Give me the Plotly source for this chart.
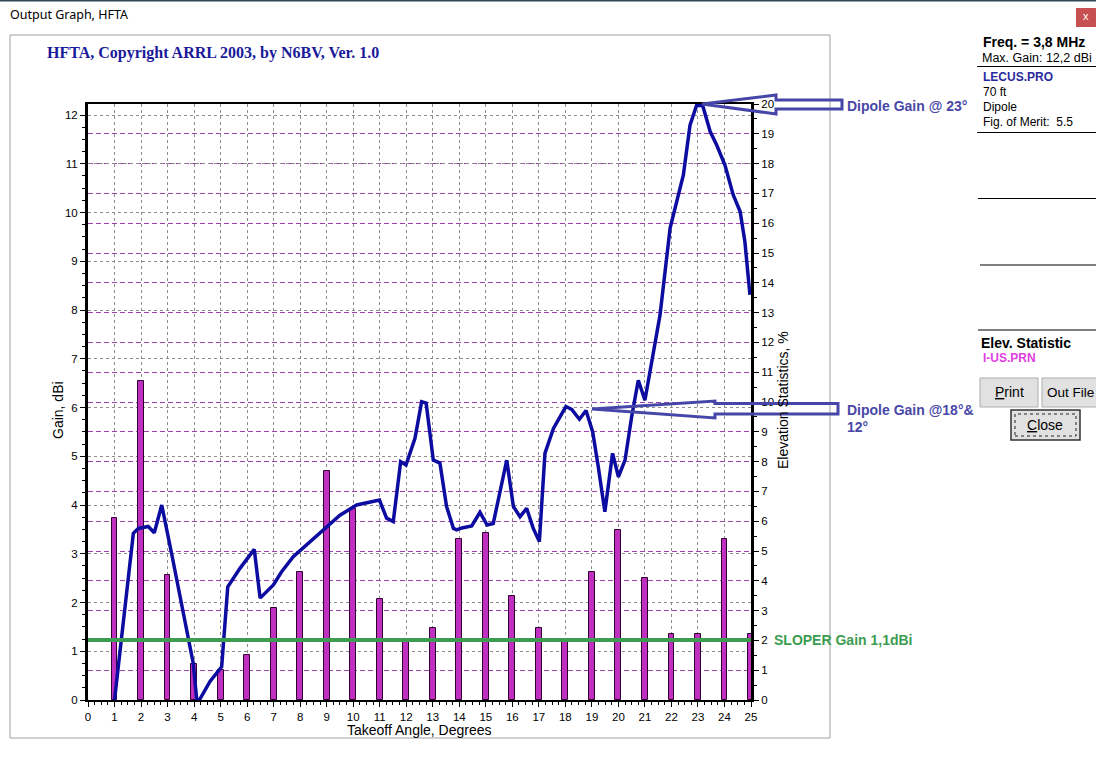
import plotly.graph_objects as go

# ---------------- data ----------------
stat_angles = list(range(1, 26))
stat_pct = [6.1, 10.7, 4.2, 1.2, 1.0, 1.5, 3.1, 4.3, 7.7, 6.4, 3.4, 2.0, 2.4,
            5.4, 5.6, 3.5, 2.4, 2.0, 4.3, 5.7, 4.1, 2.2, 2.2, 5.4, 2.2]

gain_angles = [1.0, 1.71, 1.90, 2.27, 2.50, 2.78, 3.15, 3.72, 3.97, 4.10, 4.20,
               4.60, 5.04, 5.27, 5.73, 6.27, 6.49, 6.99, 7.30, 7.74, 8.18, 8.87,
               9.50, 10.13, 10.99, 11.26, 11.51, 11.79, 11.99, 12.33, 12.58,
               12.75, 13.02, 13.27, 13.52, 13.78, 13.90, 14.10, 14.47, 14.78,
               15.05, 15.28, 15.79, 16.04, 16.29, 16.54, 16.79, 17.02, 17.23,
               17.55, 18.02, 18.24, 18.53, 18.78, 19.03, 19.24, 19.49, 19.78,
               20.00, 20.25, 20.50, 20.75, 21.00, 21.57, 21.95, 22.45, 22.70,
               22.95, 23.18, 23.46, 23.71, 24.02, 24.33, 24.59, 24.77, 24.96]
gain_dbi = [0.0, 3.42, 3.52, 3.56, 3.43, 4.00, 3.01, 1.47, 0.75, 0.0, 0.0,
            0.38, 0.68, 2.32, 2.70, 3.09, 2.09, 2.36, 2.63, 2.94, 3.15, 3.49,
            3.79, 4.00, 4.10, 3.73, 3.66, 4.89, 4.82, 5.37, 6.12,
            6.09, 4.92, 4.86, 3.97, 3.52, 3.49, 3.53, 3.57, 3.85,
            3.59, 3.62, 4.92, 3.97, 3.76, 3.93, 3.52, 3.25, 5.06,
            5.57, 6.02, 5.96, 5.76, 5.94, 5.50, 4.79, 3.86, 5.06,
            4.58, 4.92, 5.81, 6.56, 6.15, 7.90, 9.68, 10.77, 11.79,
            12.20, 12.19, 11.66, 11.38, 10.97, 10.36, 10.02, 9.40, 8.31]

sloper_gain_dbi = 1.23
angle_range = [0, 25]
gain_range = [0, 12.226]
pct_range = [0, 20]

# ---------------- layout helpers (pixel -> paper) ----------------
W, H = 1096, 773
L, R, T, B = 88, 751, 104, 700


def fx(px):
    return (px - L) / (R - L)


def fy(py):
    return (B - py) / (B - T)


fig = go.Figure()

fig.add_trace(go.Bar(
    x=stat_angles, y=stat_pct, width=0.22, yaxis="y",
    marker=dict(color="#C030C0", line=dict(color="#300030", width=1)),
    showlegend=False, hoverinfo="x+y"))

fig.add_trace(go.Scatter(
    x=gain_angles, y=gain_dbi, yaxis="y2", mode="lines",
    line=dict(color="#0C0CA0", width=3.5), showlegend=False))

fig.add_trace(go.Scatter(
    x=angle_range, y=[sloper_gain_dbi, sloper_gain_dbi], yaxis="y2",
    mode="lines", line=dict(color="#3C9C50", width=4), showlegend=False,
    cliponaxis=False))

tickfont = dict(family="Liberation Sans, Arial", size=11.5, color="black")
gray_dash = "3px,3px"
purple_dash = "5px,3px"

fig.update_layout(
    width=W, height=H,
    margin=dict(l=L, r=W - R, t=T, b=H - B),
    paper_bgcolor="white", plot_bgcolor="white",
    bargap=0,
    xaxis=dict(range=angle_range, dtick=1, tick0=0, showgrid=True,
               gridcolor="#8c8c8c", griddash=gray_dash, gridwidth=1,
               showline=True, linecolor="black", linewidth=2, mirror=True,
               ticks="outside", ticklen=5, tickcolor="black", tickfont=tickfont,
               zeroline=False,
               minor=dict(dtick=0.25, ticks="outside", ticklen=3,
                          tickcolor="black", showgrid=False)),
    yaxis=dict(range=pct_range, dtick=1, tick0=0, side="right",
               showgrid=True, gridcolor="#A040B0", griddash=purple_dash, gridwidth=1,
               showline=True, linecolor="black", linewidth=3,
               ticks="outside", ticklen=5, tickcolor="black", tickfont=tickfont,
               zeroline=False,
               minor=dict(dtick=0.5, ticks="outside", ticklen=3,
                          tickcolor="black", showgrid=False)),
    yaxis2=dict(range=gain_range, dtick=1, tick0=0, side="left",
                overlaying="y",
                showgrid=True, gridcolor="#8c8c8c", griddash=gray_dash, gridwidth=1,
                showline=True, linecolor="black", linewidth=3,
                ticks="outside", ticklen=5, tickcolor="black", tickfont=tickfont,
                zeroline=False,
                minor=dict(dtick=0.25, ticks="outside", ticklen=3,
                           tickcolor="black", showgrid=False)),
)

shapes = []
# window top border
shapes.append(dict(type="rect", xref="paper", yref="paper",
                   x0=fx(0), x1=fx(W), y0=fy(0), y1=fy(1.5),
                   line=dict(width=0), fillcolor="#2E4A5A"))
# chart frame
shapes.append(dict(type="rect", xref="paper", yref="paper",
                   x0=fx(10), x1=fx(830), y0=fy(738), y1=fy(35),
                   line=dict(color="#A0A0A0", width=1), layer="below"))
# close button
shapes.append(dict(type="rect", xref="paper", yref="paper",
                   x0=fx(1076), x1=fx(1096), y0=fy(27), y1=fy(8),
                   line=dict(width=0), fillcolor="#C75050"))
# right panel separator lines
for (xa, ya) in [(977, 66.5), (977, 132.5), (978, 198.5), (980, 265), (978, 330)]:
    shapes.append(dict(type="line", xref="paper", yref="paper",
                       x0=fx(xa), x1=fx(1096), y0=fy(ya), y1=fy(ya),
                       line=dict(color="black", width=1)))
# buttons
for (x0, y0, x1, y1) in [(980, 378, 1038, 407), (1042, 378, 1100, 407)]:
    shapes.append(dict(type="rect", xref="paper", yref="paper",
                       x0=fx(x0), x1=fx(x1), y0=fy(y1), y1=fy(y0),
                       line=dict(color="#ADADAD", width=1), fillcolor="#E1E1E1"))
shapes.append(dict(type="rect", xref="paper", yref="paper",
                   x0=fx(1011), x1=fx(1080), y0=fy(440), y1=fy(410),
                   line=dict(color="#333333", width=1.5), fillcolor="#E1E1E1"))
shapes.append(dict(type="rect", xref="paper", yref="paper",
                   x0=fx(1015), x1=fx(1076), y0=fy(436), y1=fy(414),
                   line=dict(color="#222222", width=1, dash="dot")))


def path(points):
    s = "M " + " L ".join(f"{fx(x):.5f},{fy(y):.5f}" for x, y in points) + " Z"
    return s


arrow_col = "#4646A8"
shapes.append(dict(type="path", xref="paper", yref="paper",
                   path=path([(702, 104), (776, 95), (776, 100), (842, 100),
                              (842, 109), (776, 109), (776, 114)]),
                   line=dict(color=arrow_col, width=3)))
shapes.append(dict(type="path", xref="paper", yref="paper",
                   path=path([(592, 409), (715, 401), (715, 403.5), (838, 403.5),
                              (838, 414), (715, 414), (715, 418)]),
                   line=dict(color=arrow_col, width=3)))
fig.update_layout(shapes=shapes)

sans = "Liberation Sans, Arial"
ann = []


def text(t, x, y, size=12, color="black", bold=False, xanchor="left",
         family=sans, angle=0):
    if bold:
        t = f"<b>{t}</b>"
    ann.append(dict(text=t, x=fx(x), y=fy(y), xref="paper", yref="paper",
                    xanchor=xanchor, yanchor="middle", showarrow=False,
                    textangle=angle,
                    font=dict(family=family, size=size, color=color)))


text("Output Graph, HFTA", 8, 15, size=12.5, family="Noto Sans, DejaVu Sans")
text("x", 1086, 16, size=11, color="white", xanchor="center")
text("HFTA, Copyright ARRL 2003, by N6BV, Ver. 1.0", 45, 53, size=16,
     color="#1A1A9A", bold=True, family="Liberation Serif, Times New Roman")
text("Gain, dBi", 58, 410, size=14, xanchor="center", angle=-90)
text("Takeoff Angle, Degrees", 419, 730, size=14, xanchor="center")
text("Elevation Statistics, %", 783, 400, size=14, xanchor="center", angle=-90)

text("Dipole Gain @ 23°", 845, 106, size=14, color="#4848A8", bold=True)
text("Dipole Gain @18°&", 845, 410, size=14, color="#4848A8", bold=True)
text("12°", 845, 427, size=14, color="#4848A8", bold=True)
text("SLOPER Gain 1,1dBi", 772, 640, size=14, color="#3C9C50", bold=True)

text("Freq. = 3,8 MHz", 981, 42, size=14, bold=True)
text("Max. Gain: 12,2 dBi", 980, 58, size=12.5)
text("LECUS.PRO", 981, 77, size=12, color="#2A2AA0", bold=True)
text("70 ft", 981, 92, size=12)
text("Dipole", 981, 107, size=12)
text("Fig. of Merit:  5.5", 981, 122, size=12)
text("Elev. Statistic", 979, 343, size=14, bold=True)
text("I-US.PRN", 981, 358, size=12, color="#E040E0", bold=True)
text("<u>P</u>rint", 1009, 392, size=14, xanchor="center")
text("Out File", 1045, 392, size=13.5)
text("<u>C</u>lose", 1045, 425, size=14, xanchor="center")

fig.update_layout(annotations=ann)

fig.write_html("out.html",
               config={"displayModeBar": False},
               post_script="document.body.style.margin='0';"
                           "document.body.style.overflow='hidden';")
